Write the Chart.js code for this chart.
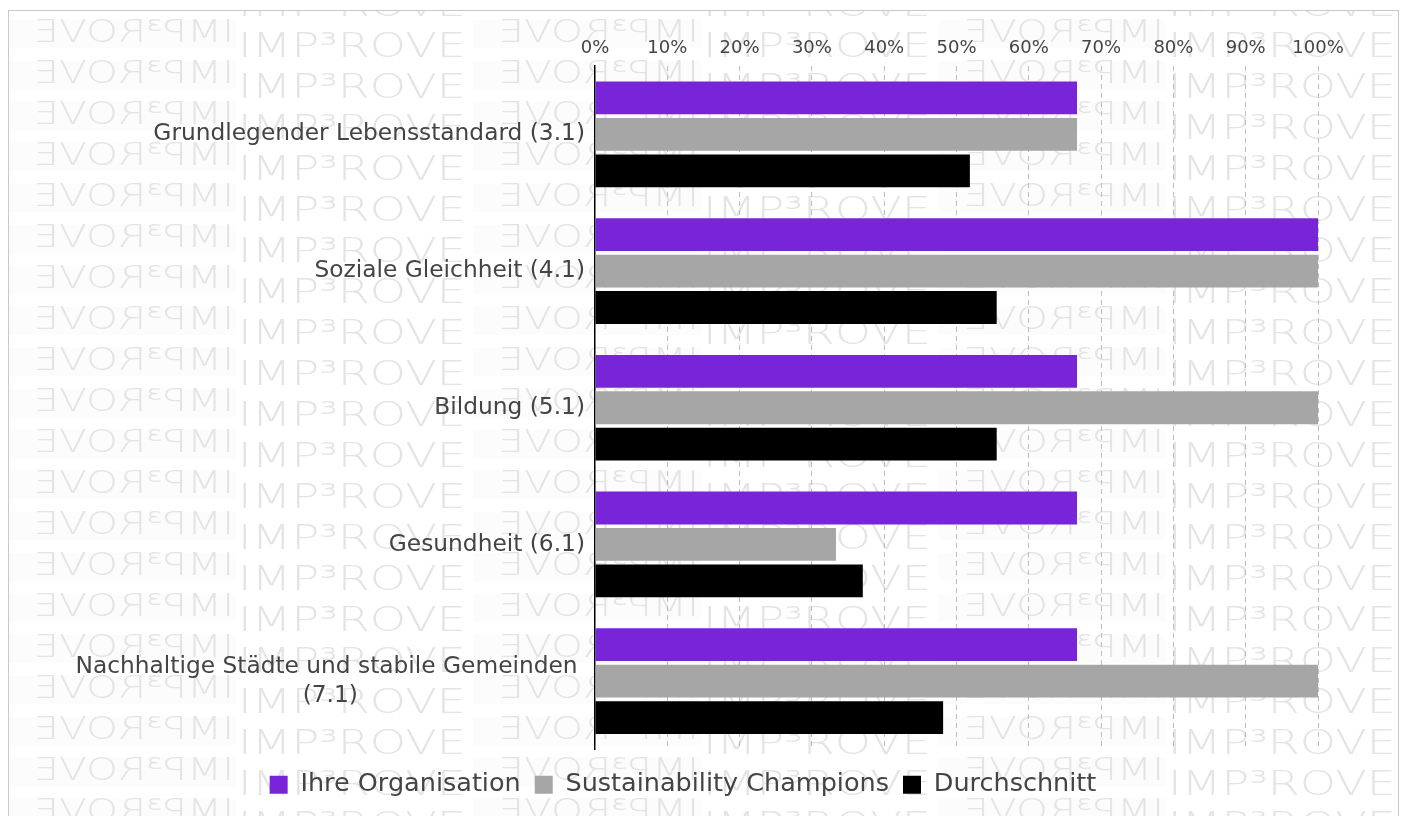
<!DOCTYPE html>
<html>
<head>
<meta charset="utf-8">
<script src="https://cdn.jsdelivr.net/npm/chart.js@4/dist/chart.umd.min.js"></script>
<style>
  body { margin: 0; background: #fff; }
  #wrap { position: relative; width: 1406px; height: 816px; overflow: hidden; }
  #frame { position: absolute; left: 8px; top: 10px; width: 1389px; height: 830px; border: 1px solid #c8c8c8; }
  canvas { position: absolute; left: 0; top: 0; }
</style>
</head>
<body>
<div id="wrap">
  <div id="frame"></div>
  <canvas id="chart"></canvas>
</div>
<script>
const categories = [
  ['Grundlegender Lebensstandard (3.1)'],
  ['Soziale Gleichheit (4.1)'],
  ['Bildung (5.1)'],
  ['Gesundheit (6.1)'],
  ['Nachhaltige Städte und stabile Gemeinden', '(7.1)']
]
const seriesNames = ['Ihre Organisation', 'Sustainability Champions', 'Durchschnitt']
const ihreOrganisation = [66.67, 100, 66.67, 66.67, 66.67]
const champions = [66.67, 100, 100, 33.33, 100]
const durchschnitt = [51.85, 55.56, 55.56, 37.04, 48.15]
const xTicks = [0, 10, 20, 30, 40, 50, 60, 70, 80, 90, 100]

const colors = ['#7825d9', '#a6a6a6', '#000000']
const textColor = '#444'

Chart.defaults.font.family = 'DejaVu Sans'

// background watermark, repeated mirrored / normal
const watermark = {
  id: 'watermark',
  beforeDraw(chart) {
    const ctx = chart.ctx
    const txt = 'IMP³ROVE'
    ctx.save()
    ctx.beginPath()
    ctx.rect(9, 11, 1388, 810)
    ctx.clip()
    ctx.font = '200 34px "DejaVu Sans"'
    ctx.textBaseline = 'middle'
    ctx.textAlign = 'left'
    const sx = 228 / ctx.measureText(txt).width
    for (let r = -1; r < 21; r++) {
      const yn = 48 + r * 41
      const ym = yn - 14
      for (let c = 0; c < 4; c++) {
        const xm = 8 + c * 465
        const xn = 238 + c * 465
        ctx.fillStyle = '#fcfcfc'
        ctx.fillRect(xm, ym - 14, 228, 28)
        ctx.fillStyle = '#e4e4e4'
        ctx.save()
        ctx.translate(xm + 226, ym)
        ctx.scale(-sx * 0.88, 0.92)
        ctx.fillText(txt, 0, 0)
        ctx.restore()
        ctx.save()
        ctx.translate(xn, yn)
        ctx.scale(sx, 1)
        ctx.fillText(txt, 0, 0)
        ctx.restore()
      }
    }
    ctx.restore()
  }
}

// category labels: right aligned, wrapped lines centred on the first line
const catLabels = {
  id: 'catLabels',
  afterDraw(chart) {
    const ctx = chart.ctx
    const ys = chart.scales.y
    const right = 585
    const lineH = 29
    ctx.save()
    ctx.font = '23.3px "DejaVu Sans"'
    ctx.fillStyle = textColor
    ctx.textAlign = 'center'
    ctx.textBaseline = 'middle'
    categories.forEach((lines, i) => {
      const y = ys.getPixelForValue(i)
      let w = 0
      lines.forEach((l, j) => {
        const s = j < lines.length - 1 ? l + ' ' : l
        w = Math.max(w, ctx.measureText(s).width)
      })
      const cx = right - w / 2
      lines.forEach((l, j) => {
        const s = j < lines.length - 1 ? l + ' ' : l
        ctx.fillText(s, cx, y + (j - (lines.length - 1) / 2) * lineH)
      })
    })
    ctx.restore()
  }
}

const data = {
  labels: categories.map(c => c.join(' ')),
  datasets: [
    { label: seriesNames[0], data: ihreOrganisation, backgroundColor: colors[0], borderWidth: 0 },
    { label: seriesNames[1], data: champions, backgroundColor: colors[1], borderWidth: 0 },
    { label: seriesNames[2], data: durchschnitt, backgroundColor: colors[2], borderWidth: 0 }
  ]
}

const config = {
  type: 'bar',
  data: data,
  options: {
    indexAxis: 'y',
    responsive: false,
    animation: false,
    layout: { padding: { left: 48, top: 30, right: 88, bottom: 8.6 } },
    scales: {
      x: {
        position: 'top',
        min: 0,
        max: 100,
        afterFit: s => { s.height = 36 },
        afterBuildTicks: s => { s.ticks = xTicks.map(v => ({ value: v })) },
        ticks: {
          callback: v => v + '%',
          color: textColor,
          font: { size: 18 },
          padding: 7,
          maxRotation: 0
        },
        grid: {
          drawTicks: false,
          color: c => c.tick && c.tick.value === 0 ? 'rgba(0,0,0,0)' : '#bdbdbd',
          lineWidth: 1
        },
        border: { display: false, dash: [5, 4] }
      },
      y: {
        afterFit: s => { s.width = 547 },
        ticks: { display: false },
        grid: { display: false, drawTicks: false },
        border: { display: true, color: '#000', width: 1.5 }
      }
    },
    plugins: {
      tooltip: { enabled: false },
      legend: {
        position: 'bottom',
        title: { display: true, text: ' ', font: { size: 7 }, padding: 0 },
        labels: {
          boxWidth: 18,
          boxHeight: 18,
          padding: 14,
          color: textColor,
          font: { size: 25.5 }
        }
      }
    }
  },
  plugins: [watermark, catLabels]
}

const cv = document.getElementById('chart')
cv.width = 1406
cv.height = 816
const myChart = new Chart(cv, config)
</script>
</body>
</html>
